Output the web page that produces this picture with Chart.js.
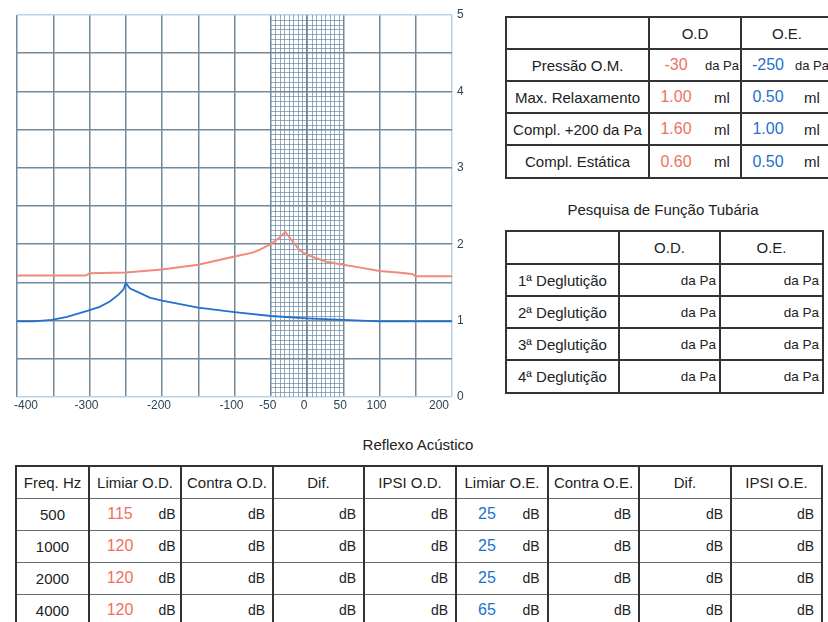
<!DOCTYPE html>
<html>
<head>
<meta charset="utf-8">
<script src="https://cdn.jsdelivr.net/npm/chart.js@4"></script>
<style>
html, body { margin:0; padding:0; width:828px; height:622px; overflow:hidden; background:#fff; }
body { font-family: "Liberation Sans", Arial, sans-serif; color:#222; position:relative; }
#chartBox { position:absolute; left:0; top:0; width:480px; height:420px; }
table { position:absolute; border-collapse:collapse; table-layout:fixed; }
td { padding:0; border:2px solid #333; position:relative; text-align:center; font-size:15px; white-space:nowrap; overflow:visible; }
.t3 td { border-top:1px solid #6a6a6a; border-bottom:1px solid #6a6a6a; }
.t3 tr:first-child td { border-top:2px solid #333; }
.title { position:absolute; font-size:15px; color:#222; white-space:nowrap; transform:translateX(-50%); }
.v { position:absolute; top:0; bottom:0; display:flex; align-items:center; justify-content:center; font-size:16px; }
.u { position:absolute; top:0; bottom:0; display:flex; align-items:center; justify-content:center; font-size:14px; }
.r { position:absolute; top:0; bottom:0; right:3px; display:flex; align-items:center; font-size:14px; }
.red { color:#f0705f; }
.blue { color:#1f6fd0; }
</style>
</head>
<body>
<div id="chartBox"><canvas id="c"></canvas></div>
<div id="tables"></div>
<script>
// ---- tympanogram data ----
const odPressure   = [-400, -305, -300, -250, -200, -150, -100, -75, -65, -50, -40, -30, -21, -10, 0, 27, 50, 70, 100, 125, 145, 150, 200];
const odCompliance = [1.59, 1.59, 1.62, 1.63, 1.67, 1.73, 1.84, 1.89, 1.93, 2.00, 2.07, 2.16, 2.05, 1.92, 1.86, 1.77, 1.73, 1.70, 1.65, 1.63, 1.61, 1.58, 1.58];
const oePressure   = [-400, -377, -352, -331, -302, -286, -272, -260, -253, -250, -244, -230, -217, -200, -150, -100, -50, 0, 50, 75, 100, 200];
const oeCompliance = [0.99, 0.99, 1.01, 1.05, 1.13, 1.18, 1.25, 1.34, 1.41, 1.49, 1.42, 1.36, 1.30, 1.26, 1.17, 1.11, 1.06, 1.03, 1.01, 1.00, 0.99, 0.99];
const xTickLabels = [-400, -300, -200, -100, -50, 0, 50, 100, 200];
const yTickLabels = [0, 1, 2, 3, 4, 5];
const fineBand = [-50, 50];

// ---- table data ----
const tympHeaders = ['', 'O.D', 'O.E.'];
const tympRows  = ['Pressão O.M.', 'Max. Relaxamento', 'Compl. +200 da Pa', 'Compl. Estática'];
const tympOD    = ['-30', '1.00', '1.60', '0.60'];
const tympOE    = ['-250', '0.50', '1.00', '0.50'];
const tympUnits = ['da Pa', 'ml', 'ml', 'ml'];
const tubTitle   = 'Pesquisa de Função Tubária';
const tubHeaders = ['', 'O.D.', 'O.E.'];
const tubRows    = ['1ª Deglutição', '2ª Deglutição', '3ª Deglutição', '4ª Deglutição'];
const reflexTitle   = 'Reflexo Acústico';
const reflexHeaders = ['Freq. Hz', 'Limiar O.D.', 'Contra O.D.', 'Dif.', 'IPSI O.D.', 'Limiar O.E.', 'Contra O.E.', 'Dif.', 'IPSI O.E.'];
const reflexFreqs   = ['500', '1000', '2000', '4000'];
const limiarOD      = ['115', '120', '120', '120'];
const limiarOE      = ['25', '25', '25', '65'];

// ---- tables ----
const T = document.getElementById('tables');
function el(html){ const d=document.createElement('div'); d.innerHTML=html; return d.firstElementChild; }

// table 1
let h = '<table style="left:505px;top:16px;width:327px"><colgroup><col style="width:143px"><col style="width:92px"><col style="width:92px"></colgroup>';
h += '<tr style="height:32px">' + tympHeaders.map(t=>'<td>'+t+'</td>').join('') + '</tr>';
tympRows.forEach((r,i)=>{
  h += '<tr style="height:'+(i===3?33:32)+'px"><td>'+r+'</td>';
  h += '<td><span class="v red" style="left:4px;width:44px">'+tympOD[i]+'</span><span class="u" style="left:52px;width:40px;'+(i===0?'font-size:13px':'font-size:15px')+'">'+tympUnits[i]+'</span></td>';
  h += '<td><span class="v blue" style="left:4px;width:44px">'+tympOE[i]+'</span><span class="u" style="left:50px;width:40px;'+(i===0?'font-size:13px':'font-size:15px')+'">'+tympUnits[i]+'</span></td></tr>';
});
h += '</table>';
T.appendChild(el(h));

// title 2
T.appendChild(el('<div class="title" style="left:663px;top:201px">'+tubTitle+'</div>'));
h = '<table style="left:505px;top:230px;width:317px"><colgroup><col style="width:113px"><col style="width:101px"><col style="width:103px"></colgroup>';
h += '<tr style="height:33px">' + tubHeaders.map(t=>'<td>'+t+'</td>').join('') + '</tr>';
tubRows.forEach((r,i)=>{
  h += '<tr style="height:'+(i===3?33:32)+'px"><td>'+r+'</td><td><span class="r" style="font-size:13.5px">da Pa</span></td><td><span class="r" style="font-size:13.5px">da Pa</span></td></tr>';
});
h += '</table>';
T.appendChild(el(h));

// title 3
T.appendChild(el('<div class="title" style="left:418px;top:436px">'+reflexTitle+'</div>'));
const rw = [73,92,92,91,92,92,91,92,91];
h = '<table class="t3" style="left:15px;top:465px;width:806px"><colgroup>' + rw.map(w=>'<col style="width:'+w+'px">').join('') + '</colgroup>';
h += '<tr style="height:32px">' + reflexHeaders.map(t=>'<td>'+t+'</td>').join('') + '</tr>';
reflexFreqs.forEach((f,i)=>{
  h += '<tr style="height:32px"><td>'+f+'</td>';
  h += '<td><span class="v red" style="left:8px;width:44px">'+limiarOD[i]+'</span><span class="u" style="left:62px;width:30px">dB</span></td>';
  h += '<td><span class="r" style="right:7px">dB</span></td><td><span class="r" style="right:7px">dB</span></td><td><span class="r" style="right:7px">dB</span></td>';
  h += '<td><span class="v blue" style="left:8px;width:44px">'+limiarOE[i]+'</span><span class="u" style="left:59px;width:30px">dB</span></td>';
  h += '<td><span class="r" style="right:7px">dB</span></td><td><span class="r" style="right:7px">dB</span></td><td><span class="r" style="right:7px">dB</span></td></tr>';
});
h += '</table>';
T.appendChild(el(h));

// ---- chart ----
const toPts = (xs, ys) => xs.map((x,i)=>({x:x, y:ys[i]}));
const majorColor = '#72899b';
const edgeColor = '#b9d3e6';

const fineGrid = {
  id: 'fineGrid',
  beforeDatasetsDraw(chart) {
    const {ctx, scales:{x, y}} = chart;
    const x0 = x.getPixelForValue(fineBand[0]), x1 = x.getPixelForValue(fineBand[1]);
    ctx.save();
    ctx.strokeStyle = 'rgba(105,135,158,0.7)';
    ctx.lineWidth = 1;
    ctx.beginPath();
    for (let v = fineBand[0] + 6.25; v < fineBand[1] - 0.01; v += 6.25) {
      if (Math.abs(v) < 0.01) continue;
      const px = Math.round(x.getPixelForValue(v)) + 0.5;
      ctx.moveTo(px, y.top); ctx.lineTo(px, y.bottom);
    }
    for (let v = 0.0625; v < 5; v += 0.0625) {
      if (Math.abs(v*2 - Math.round(v*2)) < 1e-6) continue;
      const py = Math.round(y.getPixelForValue(v)) + 0.5;
      ctx.moveTo(x0, py); ctx.lineTo(x1, py);
    }
    ctx.stroke();
    ctx.strokeStyle = majorColor;
    ctx.lineWidth = 1.5;
    ctx.beginPath();
    const pz = x.getPixelForValue(0);
    ctx.moveTo(pz, y.top); ctx.lineTo(pz, y.bottom);
    ctx.stroke();
    ctx.restore();
  }
};

new Chart(document.getElementById('c'), {
  type: 'scatter',
  data: {
    datasets: [
      { label: 'O.D.', data: toPts(odPressure, odCompliance), showLine: true, borderColor: '#f08a7a', borderWidth: 2, pointRadius: 0, tension: 0 },
      { label: 'O.E.', data: toPts(oePressure, oeCompliance), showLine: true, borderColor: '#2271d1', borderWidth: 1.8, pointRadius: 0, tension: 0 }
    ]
  },
  options: {
    responsive: true,
    maintainAspectRatio: false,
    animation: false,
    events: [],
    layout: { padding: { left: 17, top: 15, right: 0, bottom: 0 } },
    plugins: { legend: { display: false }, tooltip: { enabled: false } },
    scales: {
      x: {
        type: 'linear', min: -400, max: 200,
        afterBuildTicks: (s) => { s.ticks = []; for (let v = -400; v <= 200; v += 50) s.ticks.push({value: v}); },
        afterFit: (s) => { s.height = 23; },
        border: { display: false },
        grid: { drawTicks: false, lineWidth: 1.5, color: (c) => (c.tick && c.tick.value === 200) ? edgeColor : majorColor },
        ticks: {
          autoSkip: false, maxRotation: 0, padding: 1, align: 'inner', labelOffset: -3,
          color: '#2e4556', font: { family: 'Liberation Sans', size: 12 },
          callback: (v) => xTickLabels.includes(v) ? String(v) : ''
        }
      },
      y: {
        type: 'linear', position: 'right', min: 0, max: 5,
        afterBuildTicks: (s) => { s.ticks = []; for (let v = 0; v <= 5.0001; v += 0.5) s.ticks.push({value: Math.round(v*10)/10}); },
        afterFit: (s) => { s.width = 28; },
        border: { display: false },
        grid: { drawTicks: false, lineWidth: 1.5, color: (c) => (c.tick && (c.tick.value === 5 || c.tick.value === 0)) ? edgeColor : majorColor },
        ticks: {
          autoSkip: false, padding: 5,
          color: '#2e4556', font: { family: 'Liberation Sans', size: 12 },
          callback: (v) => yTickLabels.includes(v) ? String(v) : ''
        }
      }
    }
  },
  plugins: [fineGrid]
});
</script>
</body>
</html>
